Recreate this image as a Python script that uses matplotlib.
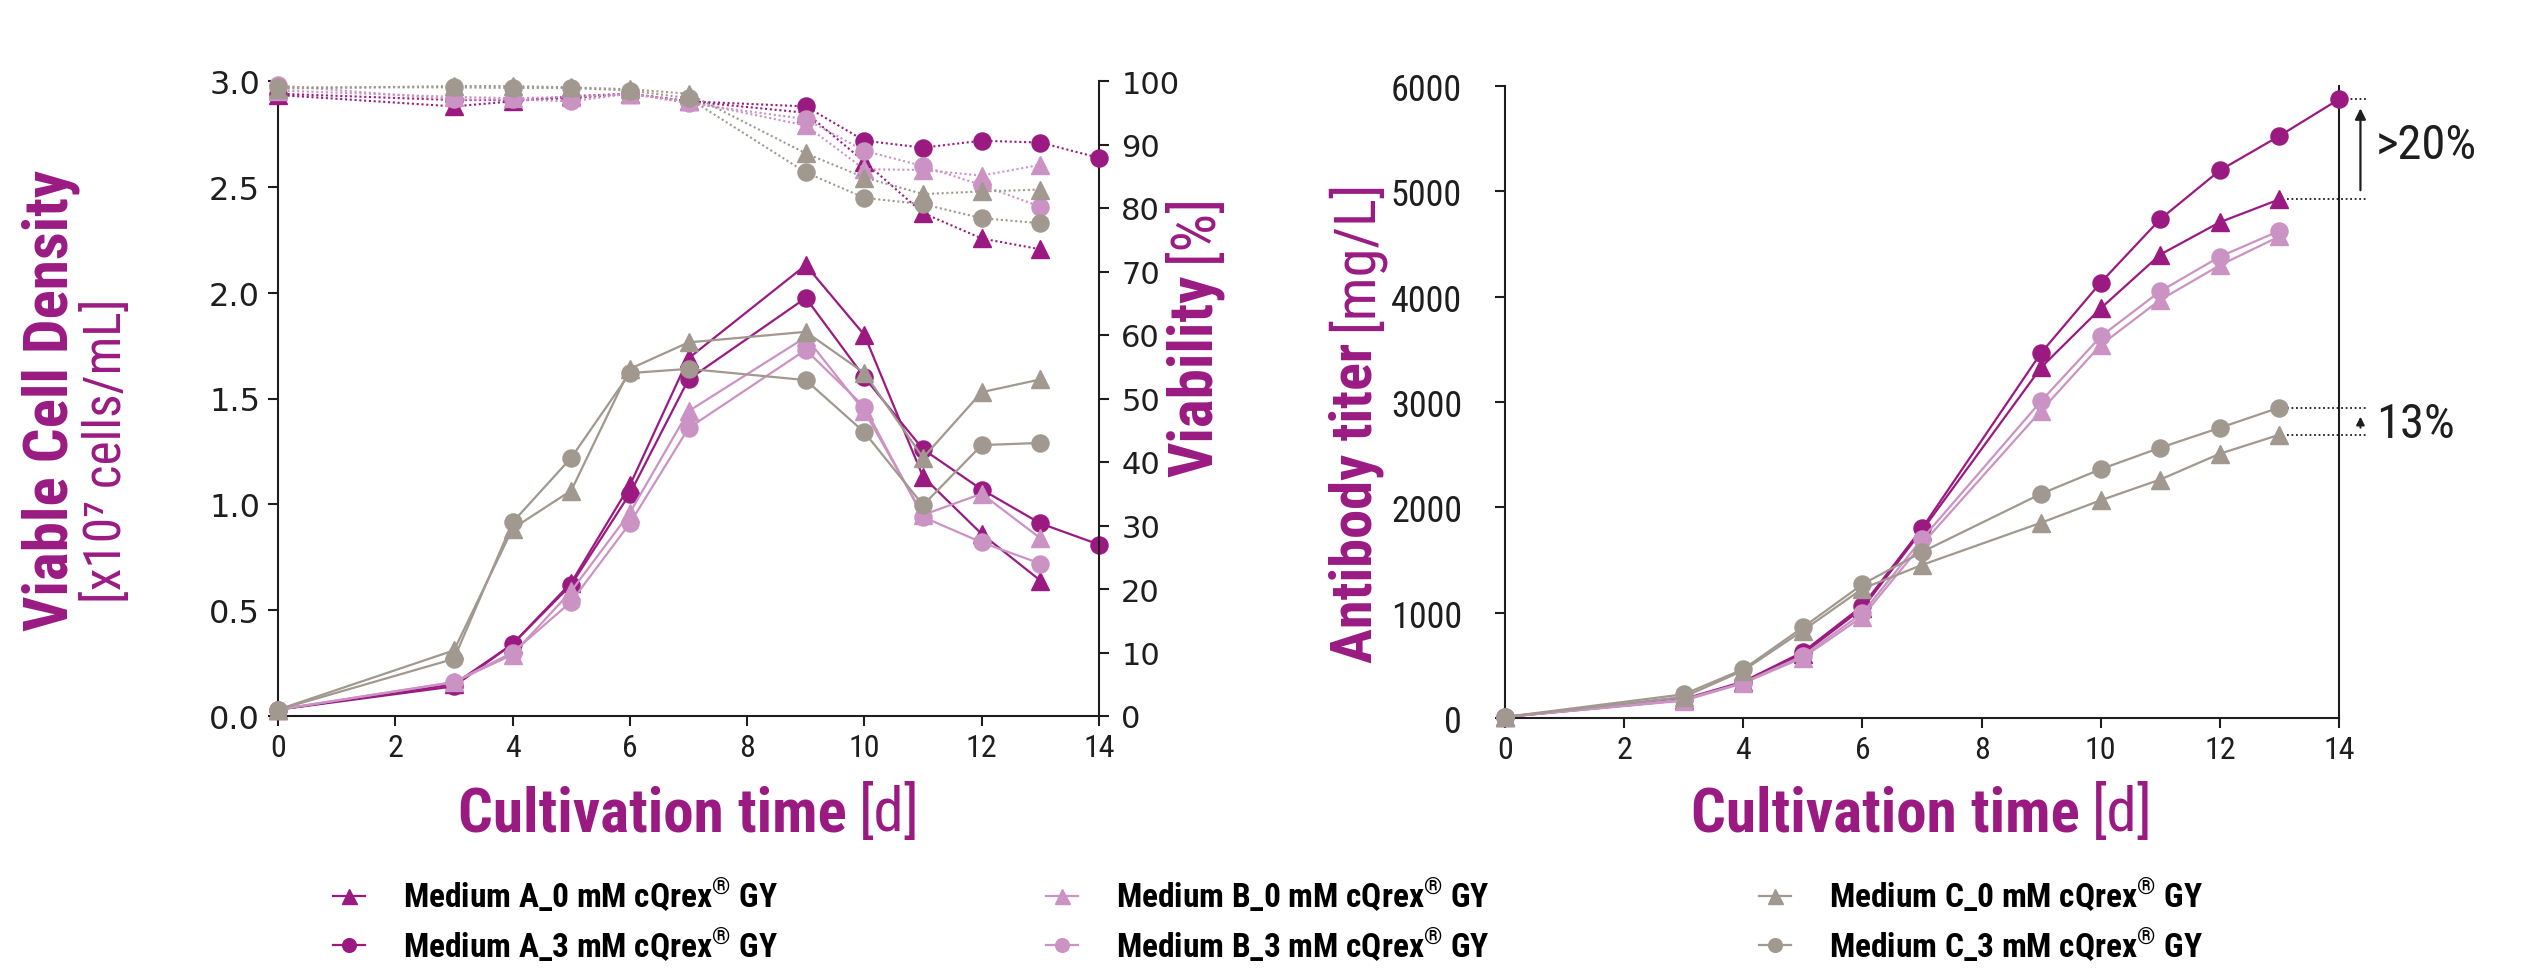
import matplotlib
matplotlib.use("Agg")
import matplotlib.pyplot as plt
from matplotlib import font_manager as fm
from matplotlib.lines import Line2D

# ---------------- data ----------------
days = [0, 3, 4, 5, 6, 7, 9, 10, 11, 12, 13]
days_a3 = [0, 3, 4, 5, 6, 7, 9, 10, 11, 12, 13, 14]

# Viable cell density [x10^7 cells/mL]
vcd_A0 = [0.03, 0.15, 0.34, 0.63, 1.09, 1.69, 2.13, 1.80, 1.13, 0.86, 0.64]
vcd_A3 = [0.03, 0.14, 0.34, 0.62, 1.05, 1.59, 1.975, 1.60, 1.26, 1.07, 0.91, 0.81]
vcd_B0 = [0.03, 0.16, 0.29, 0.59, 0.96, 1.44, 1.79, 1.44, 0.95, 1.05, 0.84]
vcd_B3 = [0.03, 0.16, 0.30, 0.54, 0.91, 1.36, 1.73, 1.46, 0.94, 0.82, 0.72]
vcd_C0 = [0.03, 0.31, 0.885, 1.065, 1.64, 1.765, 1.815, 1.62, 1.22, 1.53, 1.59]
vcd_C3 = [0.03, 0.27, 0.915, 1.22, 1.62, 1.64, 1.587, 1.34, 0.996, 1.28, 1.29]

# Viability [%]
via_A0 = [97.8, 96.0, 96.8, 97.6, 98.0, 96.8, 95.0, 87.3, 79.2, 75.2, 73.5]
via_A3 = [98.0, 97.0, 97.0, 97.3, 98.0, 96.8, 96.0, 90.6, 89.5, 90.6, 90.3, 87.9]
via_B0 = [98.5, 97.5, 97.3, 97.5, 98.0, 96.8, 93.0, 86.1, 86.0, 85.1, 86.8]
via_B3 = [99.3, 97.1, 97.1, 96.8, 98.0, 96.5, 94.0, 89.0, 86.6, 83.6, 80.2]
via_C0 = [98.8, 99.2, 99.2, 99.0, 98.7, 98.0, 88.6, 84.8, 82.2, 82.6, 82.9]
via_C3 = [99.0, 99.0, 98.9, 98.9, 98.5, 97.3, 85.6, 81.6, 80.6, 78.4, 77.6]

# Antibody titer [mg/L]
tit_A0 = [10, 170, 340, 610, 1040, 1780, 3328, 3889, 4400, 4707, 4924]
tit_A3 = [10, 180, 345, 626, 1064, 1801, 3467, 4134, 4736, 5199, 5526, 5874]
tit_B0 = [10, 165, 330, 573, 962, 1650, 2918, 3541, 3970, 4298, 4572]
tit_B3 = [10, 175, 335, 590, 995, 1699, 3009, 3622, 4052, 4380, 4625]
tit_C0 = [10, 200, 450, 830, 1228, 1453, 1854, 2067, 2264, 2509, 2689]
tit_C3 = [10, 225, 463, 860, 1269, 1576, 2129, 2362, 2566, 2755, 2947]

labels = ["Medium A_0 mM cQrex$^{\u00ae}$ GY", "Medium A_3 mM cQrex$^{\u00ae}$ GY",
          "Medium B_0 mM cQrex$^{\u00ae}$ GY", "Medium B_3 mM cQrex$^{\u00ae}$ GY",
          "Medium C_0 mM cQrex$^{\u00ae}$ GY", "Medium C_3 mM cQrex$^{\u00ae}$ GY"]
xticks = [0, 2, 4, 6, 8, 10, 12, 14]
vcd_ticks = [0.0, 0.5, 1.0, 1.5, 2.0, 2.5, 3.0]
via_ticks = [0, 10, 20, 30, 40, 50, 60, 70, 80, 90, 100]
tit_ticks = [0, 1000, 2000, 3000, 4000, 5000, 6000]

# ---------------- style ----------------
MAG = "#9a1a82"
PINK = "#cb93c3"
GRAY = "#a1988f"
DARK = "#1e1e1e"

names = {f.name for f in fm.fontManager.ttflist}
NARROW = None
for c in ["Roboto Condensed", "Liberation Sans Narrow", "Arial Narrow",
          "Open Sans Condensed", "DejaVu Sans Condensed", "Noto Sans Condensed"]:
    if c in names:
        NARROW = c
        break
STRETCH = "normal"
if NARROW is None:
    NARROW = "Noto Sans"
    STRETCH = "condensed"

plt.rcParams["mathtext.fontset"] = "custom"
plt.rcParams["mathtext.rm"] = NARROW
plt.rcParams["mathtext.bf"] = NARROW + ":bold"
plt.rcParams["mathtext.default"] = "bf"

def fp(size, weight="normal", family=None):
    return fm.FontProperties(family=family or NARROW, size=size, weight=weight,
                             stretch=STRETCH if family is None else "normal")

W, H = 2541, 979
fig = plt.figure(figsize=(W / 100, H / 100), dpi=100)

ax1 = fig.add_axes([278 / W, 1 - 717 / H, (1099 - 278) / W, (717 - 82) / H])
axv = ax1.twinx()
ax2 = fig.add_axes([1505 / W, 1 - 719 / H, (2339 - 1505) / W, (719 - 87) / H])

series = [
    ("A0", MAG, "^"), ("A3", MAG, "o"),
    ("B0", PINK, "^"), ("B3", PINK, "o"),
    ("C0", GRAY, "^"), ("C3", GRAY, "o"),
]
vcd = {"A0": vcd_A0, "A3": vcd_A3, "B0": vcd_B0, "B3": vcd_B3, "C0": vcd_C0, "C3": vcd_C3}
via = {"A0": via_A0, "A3": via_A3, "B0": via_B0, "B3": via_B3, "C0": via_C0, "C3": via_C3}
tit = {"A0": tit_A0, "A3": tit_A3, "B0": tit_B0, "B3": tit_B3, "C0": tit_C0, "C3": tit_C3}

def ms(m):
    return 13.5 if m == "^" else 12.3

for key, col, m in series:
    x = days_a3 if key == "A3" else days
    ax1.plot(x, vcd[key], color=col, marker=m, ms=ms(m), lw=1.6, mec=col, clip_on=False, zorder=3)
    axv.plot(x, via[key], color=col, marker=m, ms=ms(m), lw=1.5, ls=(0, (1, 1.3)), mec=col,
             clip_on=False, zorder=3)
    ax2.plot(x, tit[key], color=col, marker=m, ms=ms(m), lw=1.6, mec=col, clip_on=False, zorder=3)

# ---- axes formatting ----
for ax in (ax1, axv, ax2):
    ax.set_xlim(0, 14)
    ax.spines["top"].set_visible(False)
    for s in ax.spines.values():
        s.set_linewidth(1.5)
        s.set_color(DARK)
    ax.tick_params(direction="out", length=7, width=1.5, color=DARK, labelcolor=DARK)

ax1.set_ylim(0, 3.0)
axv.set_ylim(0, 100)
ax2.set_ylim(0, 6000)
ax1.spines["right"].set_visible(False)
axv.spines["left"].set_visible(False)
axv.spines["bottom"].set_visible(False)

ax1.set_xticks(xticks)
ax1.set_xticklabels([str(t) for t in xticks], fontproperties=fp(23))
ax1.set_yticks(vcd_ticks)
ax1.set_yticklabels(["%.1f" % t for t in vcd_ticks], fontproperties=fp(23, family="DejaVu Sans"))
ax1.tick_params(axis="y", pad=6)
ax1.tick_params(axis="x", pad=5)
axv.set_yticks(via_ticks)
axv.set_yticklabels([str(t) for t in via_ticks], fontproperties=fp(22, family="DejaVu Sans"))
axv.tick_params(axis="y", pad=9)

ax2.set_xticks(xticks)
ax2.set_xticklabels([str(t) for t in xticks], fontproperties=fp(23))
ax2.set_yticks(tit_ticks)
ax2.set_yticklabels([str(t) for t in tit_ticks], fontproperties=fp(26))
ax2.tick_params(axis="y", pad=24)
ax2.tick_params(axis="x", pad=5)
ax2.spines["right"].set_visible(True)
ax2.tick_params(axis="y", right=False)

# ---- annotations on titer panel ----
dot = (0, (1, 1.5))
ax2.plot([14.12, 14.45], [tit_A3[-1]] * 2, color=DARK, lw=1.3, ls=dot, clip_on=False)
ax2.plot([13.12, 14.45], [tit_A0[-1]] * 2, color=DARK, lw=1.3, ls=dot, clip_on=False)
ax2.plot([13.12, 14.45], [tit_C3[-1]] * 2, color=DARK, lw=1.3, ls=dot, clip_on=False)
ax2.plot([13.12, 14.45], [tit_C0[-1]] * 2, color=DARK, lw=1.3, ls=dot, clip_on=False)
ax2.annotate("", xy=(14.36, tit_A3[-1] - 60), xytext=(14.36, tit_A0[-1] + 60),
             arrowprops=dict(arrowstyle="-|>", color=DARK, lw=1.6, mutation_scale=16),
             annotation_clip=False)
ax2.annotate("", xy=(14.36, tit_C3[-1] - 60), xytext=(14.36, tit_C0[-1] + 40),
             arrowprops=dict(arrowstyle="-|>", color=DARK, lw=1.4, mutation_scale=12),
             annotation_clip=False)
ax2.text(14.62, 5440, ">20%", fontproperties=fp(35), color=DARK, va="center", ha="left",
         clip_on=False)
ax2.text(14.62, 2790, "13%", fontproperties=fp(35), color=DARK, va="center", ha="left",
         clip_on=False)

# ---- axis labels ----
fig.canvas.draw()
renderer = fig.canvas.get_renderer()

def two_part(xc, yc, s1, s2, size, rot, gap=12):
    kw = dict(color=MAG, rotation=rot, rotation_mode="anchor", ha="left", va="baseline")
    t1 = fig.text(0, 0, s1, fontproperties=fp(size, "bold"), **kw)
    t2 = fig.text(0, 0, s2, fontproperties=fp(size), **kw)
    e1 = t1.get_window_extent(renderer)
    e2 = t2.get_window_extent(renderer)
    if rot == 0:
        l1, l2 = e1.width, e2.width
        x0 = xc - (l1 + gap + l2) / 2
        t1.set_position((x0 / W, 1 - yc / H))
        t2.set_position(((x0 + l1 + gap) / W, 1 - yc / H))
    else:
        l1, l2 = e1.height, e2.height
        y0 = yc + (l1 + gap + l2) / 2
        t1.set_position((xc / W, 1 - y0 / H))
        t2.set_position((xc / W, 1 - (y0 - l1 - gap) / H))

two_part(689, 831, "Cultivation time", "[d]", 44, 0)
two_part(1922, 831, "Cultivation time", "[d]", 44, 0)
two_part(1212, 335, "Viability", "[%]", 44, 90)
two_part(1372, 421, "Antibody titer", "[mg/L]", 42, 90)

fig.text(68 / W, 1 - 400 / H, "Viable Cell Density", fontproperties=fp(44, "bold"), color=MAG,
         rotation=90, rotation_mode="anchor", ha="center", va="baseline")
fig.text(121 / W, 1 - 451 / H, "[x10\u2077 cells/mL]", fontproperties=fp(37), color=MAG,
         rotation=90, rotation_mode="anchor", ha="center", va="baseline")

# ---- legend (three columns) ----
handles = [Line2D([], [], color=col, marker=m, ms=ms(m), lw=1.6, mec=col) for _, col, m in series]
col_x = [333, 1046, 1759]
for c in range(3):
    fig.legend(handles[2 * c:2 * c + 2], labels[2 * c:2 * c + 2], loc="center left",
               bbox_to_anchor=(col_x[c] / W, 1 - 921 / H), frameon=False,
               prop=fp(24, "bold"), handlelength=0.95, handletextpad=1.15,
               labelspacing=0.35, borderpad=0, borderaxespad=0, markerscale=0.8)

fig.savefig("out.png", dpi=100)
